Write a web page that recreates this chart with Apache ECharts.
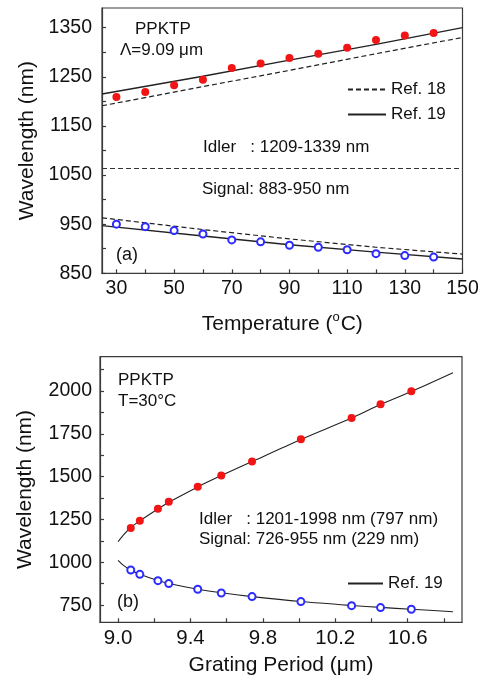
<!DOCTYPE html>
<html><head><meta charset="utf-8">
<script src="https://cdn.jsdelivr.net/npm/echarts@6/dist/echarts.min.js"></script>
<style>html,body{margin:0;padding:0;background:#fff}#c{width:484px;height:679px}</style>
</head><body><div id="c"></div>
<script>
// ---------- Panel (a): wavelength vs temperature ----------
const tempC = [30,40,50,60,70,80,90,100,110,120,130,140];
const idlerTemp = [1209,1219,1233,1244,1268,1277,1288,1297,1309,1325,1334,1339];
const signalTemp = [950,945,937,930,918,914,907,903,898,890,886,883];
const refTemp = [25,60,90,120,150];
const ref19IdlerT = [1215,1251,1284,1316,1350];
const ref19SignalT = [947,926,908,893,879];
const ref18IdlerT = [1191,1230,1263,1297,1330];
const ref18SignalT = [963,939,920,903,889];
const degenerate = 1064;
const tempLabels = [30,50,70,90,110,130,150];
const tempTicks = [30,40,50,60,70,80,90,100,110,120,130,140,150];
const wlLabelsA = [850,950,1050,1150,1250,1350];
const wlTicksA = [850,900,950,1000,1050,1100,1150,1200,1250,1300,1350];

// ---------- Panel (b): wavelength vs grating period ----------
const period = [9.07,9.12,9.22,9.28,9.44,9.57,9.74,10.01,10.29,10.45,10.62];
const idlerPeriod = [1201,1242,1312,1353,1441,1507,1589,1718,1842,1922,1998];
const signalPeriod = [955,930,893,876,843,821,800,771,747,736,726];
const curvePeriod = [9.0,9.03,9.07,9.12,9.22,9.28,9.44,9.57,9.74,10.01,10.29,10.45,10.62,10.85];
const ref19IdlerP = [1120,1160,1203,1242,1311,1350,1440,1506,1588,1717,1842,1921,1997,2107];
const ref19SignalP = [1012,982,954,931,894,876,843,822,800,771,748,737,726,712];
const periodLabels = [9.0,9.4,9.8,10.2,10.6];
const periodTicks = [9.0,9.2,9.4,9.6,9.8,10.0,10.2,10.4,10.6,10.8];
const wlLabelsB = [750,1000,1250,1500,1750,2000];
const wlTicksB = [750,875,1000,1125,1250,1375,1500,1625,1750,1875,2000,2125];

const FONT = '"Liberation Sans", Arial, sans-serif';
const INK = '#111';
const FRAME = '#3a3a3a';
const RED = '#f21515';
const BLUE = '#2b2bff';
const pairs = (xs, ys) => xs.map((x, i) => [x, ys[i]]);

function valAxis(extra) {
  return Object.assign({
    type: 'value',
    axisLine: {show: true, onZero: false, lineStyle: {color: FRAME, width: 1.2}},
    splitLine: {show: false},
    nameLocation: 'middle',
    nameMoveOverlap: false,
    nameTextStyle: {fontSize: 21, fontFamily: FONT, color: INK},
  }, extra);
}
const tickStyle = (vals) => ({show: true, inside: true, length: 4, customValues: vals, lineStyle: {color: FRAME, width: 1.2}});
const labelStyle = (vals, margin, size, fmt) => ({customValues: vals, fontSize: size, fontFamily: FONT, color: INK, margin: margin,
  formatter: fmt || (v => String(v))});

const chart = echarts.init(document.getElementById('c'), null, {renderer: 'canvas'});
const lineBase = {type: 'line', symbol: 'none', showSymbol: false, silent: true};
const txt = (x, y, s, size) => ({type: 'text', left: x, top: y, silent: true,
  style: {text: s, fontSize: size || 17, fontFamily: FONT, fill: INK}});
const legendText = {fontSize: 17, fontFamily: FONT, color: INK};

chart.setOption({
  animation: false,
  backgroundColor: '#fff',
  grid: [
    {left: 102, top: 8, width: 360.5, height: 265.3, show: true, borderColor: FRAME, borderWidth: 1.2, outerBoundsMode: 'none', containLabel: false},
    {left: 100, top: 356.7, width: 362, height: 265.6, show: true, borderColor: FRAME, borderWidth: 1.2, outerBoundsMode: 'none', containLabel: false}
  ],
  xAxis: [
    valAxis({gridIndex: 0, min: 25, max: 150, name: 'Temperature ({sup|o}C)', nameGap: 38,
      nameTextStyle: {fontSize: 21, fontFamily: FONT, color: INK,
        rich: {sup: {fontSize: 13, fontFamily: FONT, color: INK, verticalAlign: 'bottom', padding: [0, 1, 12, 0]}}},
      axisTick: tickStyle(tempTicks), axisLabel: labelStyle(tempLabels, 5, 19.5)}),
    valAxis({gridIndex: 1, min: 8.9, max: 10.9, name: 'Grating Period (\u03bcm)', nameGap: 32,
      axisTick: tickStyle(periodTicks), axisLabel: labelStyle(periodLabels, 6, 20.5, v => v.toFixed(1))})
  ],
  yAxis: [
    valAxis({gridIndex: 0, min: 850, max: 1390, name: 'Wavelength (nm)', nameGap: 64,
      axisTick: tickStyle(wlTicksA), axisLabel: labelStyle(wlLabelsA, 10, 19.5)}),
    valAxis({gridIndex: 1, min: 650, max: 2200, name: 'Wavelength (nm)', nameGap: 64,
      axisTick: tickStyle(wlTicksB), axisLabel: labelStyle(wlLabelsB, 8, 19.5)})
  ],
  legend: [
    {data: ['Ref. 18', 'Ref. 19'], orient: 'vertical', left: 347, top: 81, padding: 0, itemWidth: 38, itemHeight: 12, itemGap: 8,
      itemStyle: {opacity: 0}, textStyle: legendText, selectedMode: false},
    {data: ['Ref. 19'], orient: 'vertical', left: 347, top: 575, padding: 0, itemWidth: 35, itemHeight: 12,
      itemStyle: {opacity: 0}, textStyle: legendText, selectedMode: false}
  ],
  series: [
    Object.assign({}, lineBase, {name: 'Ref. 18', xAxisIndex: 0, yAxisIndex: 0, data: pairs(refTemp, ref18IdlerT),
      lineStyle: {color: '#222', width: 1.2, type: [5, 3]}}),
    Object.assign({}, lineBase, {name: 'Ref. 18', xAxisIndex: 0, yAxisIndex: 0, data: pairs(refTemp, ref18SignalT),
      lineStyle: {color: '#222', width: 1.2, type: [5, 3]}}),
    Object.assign({}, lineBase, {name: 'Ref. 19', xAxisIndex: 0, yAxisIndex: 0, data: pairs(refTemp, ref19IdlerT),
      lineStyle: {color: '#222', width: 1.4, type: 'solid'}}),
    Object.assign({}, lineBase, {name: 'Ref. 19', xAxisIndex: 0, yAxisIndex: 0, data: pairs(refTemp, ref19SignalT),
      lineStyle: {color: '#222', width: 1.4, type: 'solid'}}),
    Object.assign({}, lineBase, {name: 'Degeneracy', xAxisIndex: 0, yAxisIndex: 0, data: [],
      markLine: {silent: true, symbol: 'none', label: {show: false}, animation: false,
        lineStyle: {color: '#333', width: 1, type: [5, 3]}, data: [{yAxis: degenerate}]}}),
    {name: 'Idler (a)', type: 'scatter', xAxisIndex: 0, yAxisIndex: 0, z: 5, symbol: 'circle', symbolSize: 8,
      itemStyle: {color: RED, opacity: 1}, data: pairs(tempC, idlerTemp)},
    {name: 'Signal (a)', type: 'scatter', xAxisIndex: 0, yAxisIndex: 0, z: 5, symbol: 'emptyCircle', symbolSize: 7,
      itemStyle: {color: BLUE, borderColor: BLUE, borderWidth: 1.5, opacity: 1}, data: pairs(tempC, signalTemp)},

    Object.assign({}, lineBase, {name: 'Ref. 19', xAxisIndex: 1, yAxisIndex: 1, data: pairs(curvePeriod, ref19IdlerP),
      smooth: 0.3, lineStyle: {color: '#222', width: 1.1, type: 'solid'}}),
    Object.assign({}, lineBase, {name: 'Ref. 19', xAxisIndex: 1, yAxisIndex: 1, data: pairs(curvePeriod, ref19SignalP),
      smooth: 0.3, lineStyle: {color: '#222', width: 1.1, type: 'solid'}}),
    {name: 'Idler (b)', type: 'scatter', xAxisIndex: 1, yAxisIndex: 1, z: 5, symbol: 'circle', symbolSize: 8,
      itemStyle: {color: RED, opacity: 1}, data: pairs(period, idlerPeriod)},
    {name: 'Signal (b)', type: 'scatter', xAxisIndex: 1, yAxisIndex: 1, z: 5, symbol: 'emptyCircle', symbolSize: 7,
      itemStyle: {color: BLUE, borderColor: BLUE, borderWidth: 1.5, opacity: 1}, data: pairs(period, signalPeriod)}
  ],
  graphic: [
    txt(135, 21, 'PPKTP'),
    txt(120, 42, '\u039b=9.09 \u03bcm'),
    txt(203, 139, 'Idler   : 1209-1339 nm'),
    txt(202, 181, 'Signal: 883-950 nm'),
    txt(116, 246, '(a)', 18),
    txt(118, 372, 'PPKTP'),
    txt(118, 393, 'T=30\u00b0C'),
    txt(199, 511, 'Idler   : 1201-1998 nm (797 nm)'),
    txt(199, 531, 'Signal: 726-955 nm (229 nm)'),
    txt(117, 593, '(b)', 18)
  ]
});
</script></body></html>
